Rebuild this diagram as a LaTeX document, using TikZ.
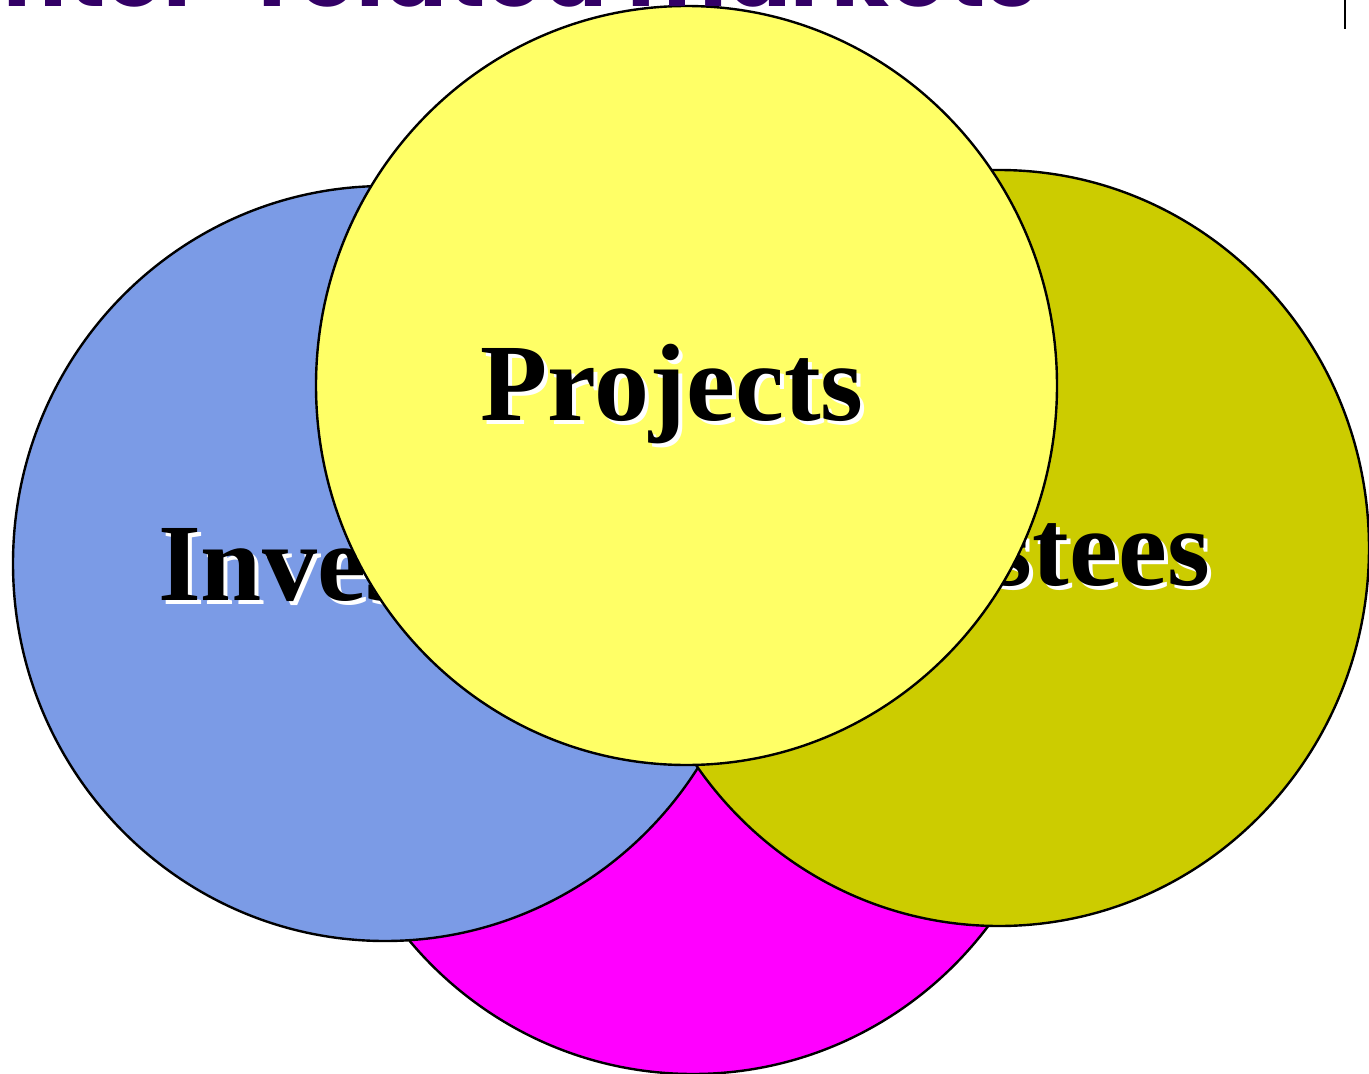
\documentclass[tikz,border=0pt]{standalone}
\usepackage{fontspec}
\setmainfont{Liberation Serif}
\newfontfamily\titlefont{Poppins}
\usetikzlibrary{shapes.geometric}
\definecolor{bluec}{RGB}{123,155,230}
\definecolor{olivec}{RGB}{204,204,0}
\definecolor{yellowc}{RGB}{255,255,102}
\definecolor{magentac}{RGB}{255,0,255}
\definecolor{titlec}{RGB}{51,0,102}
\tikzset{
  disc/.style={ellipse, draw=black, line width=2.4pt, inner sep=0pt},
  lbl/.style={inner sep=0pt, font=\fontsize{110}{120}\selectfont\bfseries, text=black},
  shadowlbl/.style={lbl, text=white}
}
\begin{document}
\begin{tikzpicture}[x=1pt,y=-1pt]
\useasboundingbox (0,0) rectangle (1369,1074);
\clip (0,0) rectangle (1369,1074);
% circles
\node[disc, fill=magentac, minimum width=744pt, minimum height=756pt] (mag) at (693,696) {};
\node[disc, fill=bluec, minimum width=744pt, minimum height=755pt] (inv) at (385,563.5) {};
\node[disc, fill=olivec, minimum width=740pt, minimum height=756pt] (tru) at (999,548) {};
% labels under projects circle
\node[shadowlbl, anchor=base west] (invs) at (162,604) {Investors};
\node[lbl, anchor=base west] (invt) at (158,600) {Investors};
\node[shadowlbl, anchor=base east] (trus) at (1214,589) {Trustees};
\node[lbl, anchor=base east] (trut) at (1210,585) {Trustees};
% projects circle
\node[disc, fill=yellowc, minimum width=741pt, minimum height=759pt] (proj) at (686.5,385.5) {};
\node[shadowlbl, anchor=base] (projs) at (676,424) {Projects};
\node[lbl, anchor=base] (projt) at (672,420) {Projects};
% title (cut off at top)
\node[inner sep=0pt, anchor=base east, text=titlec, font=\titlefont\fontsize{94}{100}\selectfont\bfseries] (title) at (1038,6) {Inter-related markets};
% vertical rule at top right
\draw[line width=2pt, black] (1345,0) -- (1345,29);
\end{tikzpicture}
\end{document}
